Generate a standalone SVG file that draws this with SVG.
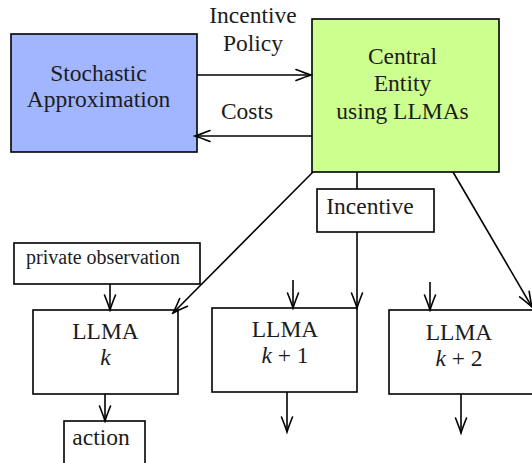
<svg xmlns="http://www.w3.org/2000/svg" width="532" height="463" viewBox="0 0 532 463">
<style>
.box{stroke:#000;stroke-width:1.6;fill:#fff}
.c line{stroke:#000;stroke-width:1.6;fill:none}
</style>
<defs>
<marker id="ah" markerUnits="userSpaceOnUse" markerWidth="20" markerHeight="16" viewBox="-18 -8 20 16" refX="0" refY="0" orient="auto">
<path d="M-15,-5.5 Q-5,-1.5 0,0 Q-5,1.5 -15,5.5" fill="none" stroke="#000" stroke-width="1.6" stroke-linecap="round"/>
</marker>
</defs>
<rect width="532" height="463" fill="#fff"/>
<g font-family="'Liberation Serif', 'DejaVu Serif', serif" font-size="23.5" fill="#1c1c1c" text-anchor="middle">
<g id="stochastic">
<rect class="box" x="11" y="34" width="186" height="118" style="fill:#a2b5ff"/>
<text x="98.5" y="81">Stochastic</text>
<text x="98.5" y="107">Approximation</text>
</g>
<g id="central">
<rect class="box" x="312" y="19" width="187" height="153" style="fill:#ccff8e"/>
<text x="402.5" y="64">Central</text>
<text x="402.5" y="91">Entity</text>
<text x="402.5" y="119">using LLMAs</text>
</g>
<g id="incentive">
<rect class="box" x="317" y="189" width="117" height="43"/>
<text x="370" y="214">Incentive</text>
</g>
<g id="privobs">
<rect class="box" x="14" y="243" width="186" height="41"/>
<text x="103" y="264" font-size="20">private observation</text>
</g>
<g id="llmak">
<rect class="box" x="33" y="310" width="145" height="84"/>
<text x="105.5" y="339">LLMA</text>
<text x="105.5" y="365" font-style="italic">k</text>
</g>
<g id="llmak1">
<rect class="box" x="212" y="308" width="145" height="84"/>
<text x="285" y="337">LLMA</text>
<text x="285" y="363"><tspan font-style="italic">k</tspan> + 1</text>
</g>
<g id="llmak2">
<rect class="box" x="389" y="310" width="145" height="84"/>
<text x="459" y="340">LLMA</text>
<text x="459" y="366"><tspan font-style="italic">k</tspan> + 2</text>
</g>
<g id="action">
<rect class="box" x="64" y="421" width="81" height="44"/>
<text x="101" y="445">action</text>
</g>
<g id="labels">
<text x="253" y="23">Incentive</text>
<text x="253" y="51">Policy</text>
<text x="247" y="119">Costs</text>
</g>
</g>
<g id="connectors" class="c">
<line x1="197" y1="75" x2="311" y2="75" marker-end="url(#ah)"/>
<line x1="312" y1="136" x2="195" y2="136" marker-end="url(#ah)"/>
<line x1="357" y1="172" x2="357" y2="189"/>
<line x1="357" y1="232" x2="357" y2="308" marker-end="url(#ah)"/>
<line x1="313" y1="172" x2="173" y2="313" marker-end="url(#ah)"/>
<line x1="453" y1="172" x2="532" y2="307" marker-end="url(#ah)"/>
<line x1="110" y1="284" x2="110" y2="310" marker-end="url(#ah)"/>
<line x1="105" y1="394" x2="105" y2="421" marker-end="url(#ah)"/>
<line x1="293" y1="280" x2="293" y2="308" marker-end="url(#ah)"/>
<line x1="430" y1="282" x2="430" y2="310" marker-end="url(#ah)"/>
<line x1="287" y1="392" x2="287" y2="432" marker-end="url(#ah)"/>
<line x1="461" y1="394" x2="461" y2="433" marker-end="url(#ah)"/>
</g>
</svg>
